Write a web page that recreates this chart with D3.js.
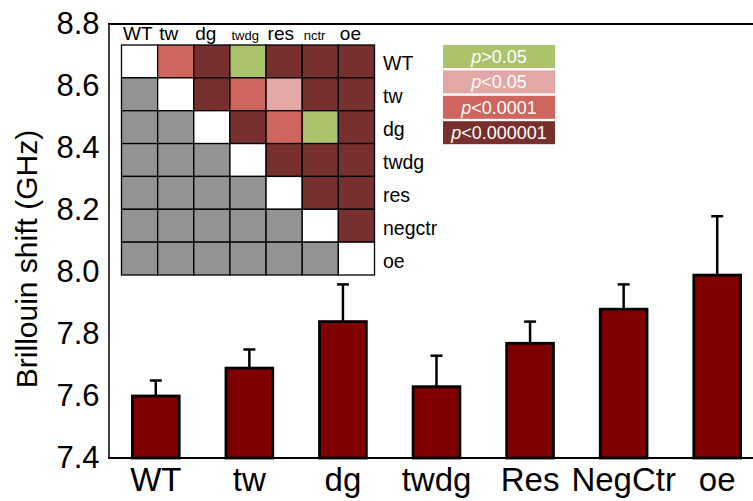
<!DOCTYPE html>
<html>
<head>
<meta charset="utf-8">
<script src="https://cdn.jsdelivr.net/npm/d3@7"></script>
<style>
  html, body { margin: 0; padding: 0; background: #fff; }
  svg { display: block; }
  text { font-family: "Liberation Sans", Arial, sans-serif; }
</style>
</head>
<body>
<svg id="chart" width="753" height="501"></svg>
<script>
// Bar data: mean Brillouin shift per genotype with its error
const categories = ["WT", "tw", "dg", "twdg", "Res", "NegCtr", "oe"];
const means = [7.60, 7.69, 7.84, 7.63, 7.77, 7.88, 7.99];
const errors = [0.05, 0.06, 0.12, 0.10, 0.07, 0.08, 0.19];
const yTicks = [7.4, 7.6, 7.8, 8.0, 8.2, 8.4, 8.6, 8.8];

// Pairwise significance matrix (upper triangle): index into significance levels
const matrixTopLabels = ["WT", "tw", "dg", "twdg", "res", "nctr", "oe"];
const matrixSideLabels = ["WT", "tw", "dg", "twdg", "res", "negctr", "oe"];
const pMatrix = [
  [null, 2, 3, 0, 3, 3, 3],
  [null, null, 3, 2, 1, 3, 3],
  [null, null, null, 3, 2, 0, 3],
  [null, null, null, null, 3, 3, 3],
  [null, null, null, null, null, 3, 3],
  [null, null, null, null, null, null, 3],
  [null, null, null, null, null, null, null]
];
const levelSigns = [">", "<", "<", "<"];
const levelThresholds = ["0.05", "0.05", "0.0001", "0.000001"];
const levelColors = ["#abc46c", "#e3a8a5", "#cf665e", "#77302e"];

const svg = d3.select("#chart");
const W = 753;

const x = d3.scaleBand().domain(categories).range([109, 764])
  .paddingInner(0.5).paddingOuter(0.25);
const y = d3.scaleLinear().domain([7.4, 8.8]).range([458, 24]);

// Y axis with tick labels only
const yAxis = svg.append("g").attr("transform", "translate(108.5,0)")
  .call(d3.axisLeft(y).tickValues(yTicks).tickFormat(d3.format(".1f")).tickSize(0).tickPadding(9));
yAxis.select(".domain").attr("stroke", "#000").attr("stroke-width", 1.5);
yAxis.selectAll("text").attr("font-size", 31).attr("fill", "#000")
  .attr("font-family", "'Liberation Sans', Arial, sans-serif");

// top frame line
svg.append("line").attr("x1", 108).attr("x2", W).attr("y1", y(8.8)).attr("y2", y(8.8))
  .attr("stroke", "#000").attr("stroke-width", 2);

// Y title
svg.append("text")
  .attr("transform", `translate(37,${(y(7.4) + y(8.8)) / 2 + 18}) rotate(-90)`)
  .attr("text-anchor", "middle").attr("font-size", 30).attr("fill", "#000")
  .text("Brillouin shift (GHz)");

// error bars
const eg = svg.append("g");
categories.forEach((c, i) => {
  const cx = x(c) + x.bandwidth() / 2;
  eg.append("line").attr("x1", cx).attr("x2", cx)
    .attr("y1", y(means[i])).attr("y2", y(means[i] + errors[i]))
    .attr("stroke", "#000").attr("stroke-width", 2.5);
  eg.append("line").attr("x1", cx - 6).attr("x2", cx + 6)
    .attr("y1", y(means[i] + errors[i])).attr("y2", y(means[i] + errors[i]))
    .attr("stroke", "#000").attr("stroke-width", 2.5);
});

// bars
svg.append("g").selectAll("rect").data(categories).join("rect")
  .attr("x", d => x(d))
  .attr("y", (d, i) => y(means[i]))
  .attr("width", x.bandwidth())
  .attr("height", (d, i) => y(7.4) - y(means[i]))
  .attr("fill", "#800000").attr("stroke", "#000").attr("stroke-width", 2.8);

// X axis
const xAxis = svg.append("g").attr("transform", `translate(0,${y(7.4)})`)
  .call(d3.axisBottom(x).tickSize(0).tickPadding(10));
xAxis.select(".domain").remove();
svg.append("line").attr("x1", 108).attr("x2", W).attr("y1", y(7.4)).attr("y2", y(7.4))
  .attr("stroke", "#000").attr("stroke-width", 2);
xAxis.selectAll("text").attr("font-size", 33).attr("fill", "#000")
  .attr("font-family", "'Liberation Sans', Arial, sans-serif");

// Significance matrix
const mx = d3.scaleBand().domain(d3.range(7)).range([121.5, 374.5]);
const my = d3.scaleBand().domain(d3.range(7)).range([45, 275]);
const hm = svg.append("g");
const cells = [];
pMatrix.forEach((row, r) => row.forEach((v, c) => cells.push({ r, c, v })));
hm.selectAll("rect").data(cells).join("rect")
  .attr("x", d => mx(d.c)).attr("y", d => my(d.r))
  .attr("width", mx.bandwidth()).attr("height", my.bandwidth())
  .attr("fill", d => d.c < d.r ? "#939393" : d.c === d.r ? "#fff" : levelColors[d.v])
  .attr("stroke", "#000").attr("stroke-width", 1.3);

const smallTop = new Set(["twdg", "nctr"]);
hm.selectAll("text.top").data(matrixTopLabels).join("text").attr("class", "top")
  .attr("x", (d, i) => mx(i) + 1.5).attr("y", 40)
  .attr("font-size", d => smallTop.has(d) ? 13 : 19).attr("fill", "#000")
  .text(d => d);
hm.selectAll("text.side").data(matrixSideLabels).join("text").attr("class", "side")
  .attr("x", 383).attr("y", (d, i) => my(i) + my.bandwidth() / 2 + 9)
  .attr("font-size", 19.5).attr("fill", "#000")
  .text(d => d);

// Legend for significance levels
const lg = svg.append("g");
levelColors.forEach((col, i) => {
  const top = 45 + i * 25.4;
  lg.append("rect").attr("x", 443).attr("y", top).attr("width", 112).attr("height", 23)
    .attr("fill", col);
  const t = lg.append("text").attr("x", 499).attr("y", top + 18)
    .attr("text-anchor", "middle").attr("font-size", 18).attr("fill", "#fff");
  t.append("tspan").attr("font-style", "italic").text("p");
  t.append("tspan").text(levelSigns[i] + levelThresholds[i]);
});
</script>
</body>
</html>
